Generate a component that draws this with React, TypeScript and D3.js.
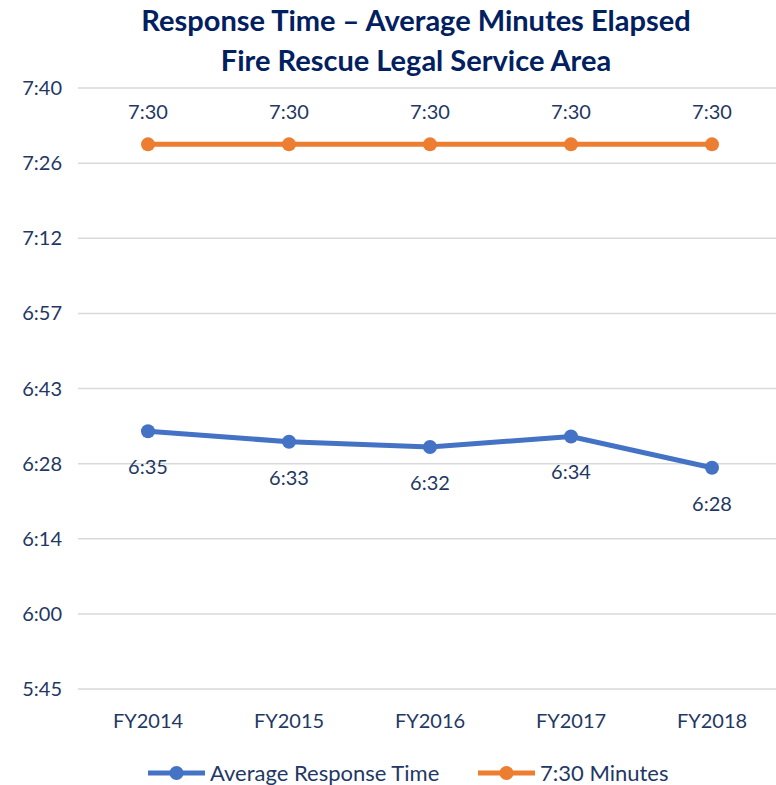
import React from "react";
import * as d3 from "d3";

const categories = ["FY2014", "FY2015", "FY2016", "FY2017", "FY2018"];
// values in "h:mm" units expressed as total minutes (axis displays h:mm)
const avgResponse = [395, 393, 392, 394, 388];
const target = [450, 450, 450, 450, 450];
// axis in fractions of a day (Excel time), 0.24 .. 0.32
const yTickDays = [0.24, 0.25, 0.26, 0.27, 0.28, 0.29, 0.3, 0.31, 0.32];
const yTickLabels = ["5:45", "6:00", "6:14", "6:28", "6:43", "6:57", "7:12", "7:26", "7:40"];
const seriesNames = ["Average Response Time", "7:30 Minutes"];
const titleLines = ["Response Time \u2013 Average Minutes Elapsed", "Fire Rescue Legal Service Area"];

const W = 776;
const H = 785;
const FONT = "Lato, 'Open Sans', sans-serif";
const BLUE = "#4472C4";
const ORANGE = "#ED7D31";
const NAVY = "#1F3864";
const TITLE = "#002060";

const fmt = (m: number) => {
  const h = Math.floor(m / 60);
  const mm = Math.round(m - h * 60);
  return `${h}:${String(mm).padStart(2, "0")}`;
};

export default function App() {
  const y = d3.scaleLinear().domain([0.24 * 1440, 0.32 * 1440]).range([689, 88]);
  const x = d3.scalePoint<string>().domain(categories).range([77.5, 782.5]).padding(0.5);
  const line = d3
    .line<number>()
    .x((_, i) => x(categories[i]) as number)
    .y((d) => y(d));

  return (
    <svg
      width={W}
      height={H}
      style={{ position: "absolute", left: 0, top: 0, background: "#fff" }}
      fontFamily={FONT}
    >
      <rect width={W} height={H} fill="#fff" />
      {titleLines.map((t, i) => (
        <text
          key={t}
          x={416}
          y={31 + i * 40}
          textAnchor="middle"
          fontWeight="bold"
          fontSize={29}
          fill={TITLE}
        >
          {t}
        </text>
      ))}
      {yTickDays.map((d, i) => (
        <g key={d}>
          <line x1={78} x2={W} y1={y(d * 1440)} y2={y(d * 1440)} stroke="#d9d9d9" strokeWidth={1.5} />
          <text
            x={62}
            y={y(d * 1440)}
            dy="0.35em"
            textAnchor="end"
            fontSize={20}
            fill={NAVY}
          >
            {yTickLabels[i]}
          </text>
        </g>
      ))}
      {categories.map((c) => (
        <text key={c} x={x(c)} y={721} dy="0.35em" textAnchor="middle" fontSize={20} fill={NAVY}>
          {c}
        </text>
      ))}
      <path d={line(target) || ""} fill="none" stroke={ORANGE} strokeWidth={5} />
      {target.map((v, i) => (
        <g key={"t" + i}>
          <circle cx={x(categories[i])} cy={y(v)} r={7} fill={ORANGE} />
          <text x={x(categories[i])} y={y(v) - 32} dy="0.35em" textAnchor="middle" fontSize={20} fill={NAVY}>
            {fmt(v)}
          </text>
        </g>
      ))}
      <path d={line(avgResponse) || ""} fill="none" stroke={BLUE} strokeWidth={5} />
      {avgResponse.map((v, i) => (
        <g key={"a" + i}>
          <circle cx={x(categories[i])} cy={y(v)} r={7} fill={BLUE} />
          <text x={x(categories[i])} y={y(v) + 36} dy="0.35em" textAnchor="middle" fontSize={20} fill={NAVY}>
            {fmt(v)}
          </text>
        </g>
      ))}
      {/* legend */}
      {[
        { name: seriesNames[0], color: BLUE, x0: 148 },
        { name: seriesNames[1], color: ORANGE, x0: 478 },
      ].map((l) => (
        <g key={l.name}>
          <line x1={l.x0} x2={l.x0 + 57} y1={773} y2={773} stroke={l.color} strokeWidth={5} />
          <circle cx={l.x0 + 28.5} cy={773} r={7} fill={l.color} />
          <text x={l.x0 + 62} y={773} dy="0.35em" fontSize={22} fill={NAVY}>
            {l.name}
          </text>
        </g>
      ))}
    </svg>
  );
}
